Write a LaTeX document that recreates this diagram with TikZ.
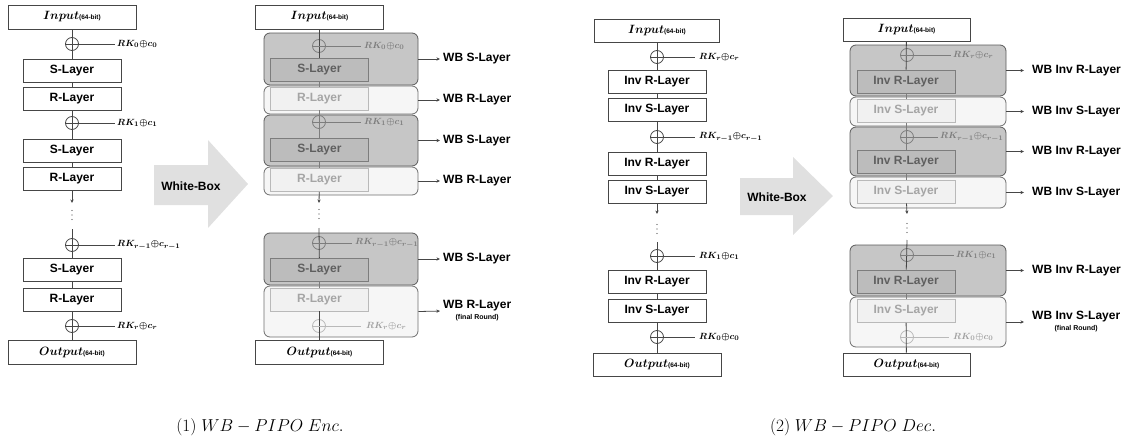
\documentclass[tikz,border=0pt]{standalone}
\usepackage{fontspec}
\usepackage{bm}
\newfontfamily\lblfont{Liberation Sans}
\usetikzlibrary{arrows.meta}
\definecolor{dk}{RGB}{70,70,70}
\definecolor{dfill}{RGB}{198,198,198}
\definecolor{dbord}{RGB}{90,90,90}
\definecolor{dinf}{RGB}{188,188,188}
\definecolor{dinb}{RGB}{125,125,125}
\definecolor{dint}{RGB}{95,95,95}
\definecolor{lfill}{RGB}{246,246,246}
\definecolor{lbord}{RGB}{110,110,110}
\definecolor{linf}{RGB}{241,241,241}
\definecolor{linb}{RGB}{185,185,185}
\definecolor{lint}{RGB}{165,165,165}
\definecolor{rkd}{RGB}{125,125,125}
\definecolor{rkl}{RGB}{160,160,160}
\definecolor{wbfill}{RGB}{224,224,224}
\newcommand{\iolab}[1]{{\fontsize{12.5}{14}\selectfont$\bm{#1}$}{\lblfont\bfseries\fontsize{6.5}{8}\selectfont(64-bit)}}
\newcommand{\finfont}{\lblfont\bfseries\fontsize{7}{8}\selectfont}
\newcommand{\xr}{{\oplus}}
\newcommand{\vdts}[2]{\foreach \dd in {-4.5,0,4.5}{\fill[dk] (#1,#2+\dd) circle (0.65);}}
\begin{document}
\begin{tikzpicture}[x=1pt,y=-1pt,
  pb/.style={draw=dk, fill=white, line width=0.8pt, minimum width=98pt, minimum height=23pt, inner sep=0pt, font=\lblfont\bfseries\fontsize{12}{14}\selectfont, text=black},
  iob/.style={pb, minimum width=128pt, minimum height=24pt},
  xorc/.style={circle, draw=dk, line width=0.8pt, minimum size=13pt, inner sep=0pt},
  xorg/.style={xorc, draw=dinb},
  xorl/.style={xorc, draw=linb},
  rk/.style={anchor=west, inner sep=0pt, font=\fontsize{9.5}{11}\selectfont, text=black},
  rkg/.style={rk, text=rkd},
  rkw/.style={rk, text=rkl},
  dbox/.style={draw=dbord, fill=dfill, rounded corners=6pt, line width=0.8pt, inner sep=0pt},
  lbox/.style={draw=lbord, fill=lfill, rounded corners=6pt, line width=0.8pt, inner sep=0pt},
  dinner/.style={pb, draw=dinb, fill=dinf, text=dint},
  linner/.style={pb, draw=linb, fill=linf, text=lint},
  wbl/.style={anchor=west, inner sep=0pt, align=center, font=\lblfont\bfseries\fontsize{12}{14}\selectfont},
  ln/.style={draw=dk, line width=0.8pt},
  lng/.style={draw=dinb, line width=0.8pt},
  lnl/.style={draw=linb, line width=0.8pt},
  arr/.style={-{Stealth[length=3.5pt,width=3.2pt]}},
  capn/.style={inner sep=0pt, font=\fontsize{19}{22}\selectfont}
]
\useasboundingbox (0,0) rectangle (1128,442);

%% ================= Panel 1: PIPO Enc =================
\node[iob] (in1) at (72,17) {\iolab{Input}};
\node[xorc] (xa1) at (72,44) {};
\node[rk] (ka1) at (117,44) {$\bm{RK_0\xr c_0}$};
\node[pb] (sa1) at (72,71) {S-Layer};
\node[pb] (ra1) at (72,99) {R-Layer};
\node[xorc] (xa2) at (72,123) {};
\node[rk] (ka2) at (117,123) {$\bm{RK_1\xr c_1}$};
\node[pb] (sa2) at (72,150.5) {S-Layer};
\node[pb] (ra2) at (72,178.5) {R-Layer};
\coordinate (aa) at (72,203);
\vdts{72}{215}
\coordinate (ba) at (72,229);
\node[xorc] (xa3) at (72,245) {};
\node[rk] (ka3) at (117,245) {$\bm{RK_{r-1}\xr c_{r-1}}$};
\node[pb] (sa3) at (72,270) {S-Layer};
\node[pb] (ra3) at (72,299.5) {R-Layer};
\node[xorc] (xa4) at (72,326) {};
\node[rk] (ka4) at (117,326) {$\bm{RK_r\xr c_r}$};
\node[iob] (out1) at (72,352.5) {\iolab{Output}};
\draw[ln] (in1) -- (sa1);
\draw[ln] (sa1) -- (ra1);
\draw[ln] (ra1) -- (sa2);
\draw[ln] (sa2) -- (ra2);
\draw[ln,arr] (ra2) -- (aa);
\draw[ln] (ba) -- (sa3);
\draw[ln] (sa3) -- (ra3);
\draw[ln] (ra3) -- (out1);
\foreach \i in {1,2,3,4}{\draw[ln,shorten >=2pt] (xa\i.west) -- (ka\i.west);}

%% White-Box arrow 1
\fill[wbfill] (154,165) -- (208,165) -- (208,140) -- (248,184) -- (208,228) -- (208,205) -- (154,205) -- cycle;
\node[wbl, anchor=center] (wb1) at (191,186) {White-Box};

%% ================= Panel 2: WB-PIPO Enc =================
\node[dbox, minimum width=154pt, minimum height=52pt] (D1) at (341,59) {};
\node[lbox, minimum width=154pt, minimum height=28pt] (L2) at (341,100) {};
\node[dbox, minimum width=154pt, minimum height=51pt] (D3) at (341,140.5) {};
\node[lbox, minimum width=154pt, minimum height=28pt] (L4) at (341,181) {};
\node[dbox, minimum width=154pt, minimum height=52pt] (D5) at (341,259) {};
\node[lbox, minimum width=154pt, minimum height=51pt] (L6) at (341,311.5) {};

\node[iob] (in2) at (319.5,17) {\iolab{Input}};
\node[xorg] (xb1) at (319,46) {};
\node[rkg] (kb1) at (364,46) {$\bm{RK_0\xr c_0}$};
\node[dinner] (sb1) at (319.5,69.5) {S-Layer};
\node[linner] (rb1) at (319.5,98.5) {R-Layer};
\node[xorg] (xb2) at (319,122) {};
\node[rkg] (kb2) at (364,122) {$\bm{RK_1\xr c_1}$};
\node[dinner] (sb2) at (319.5,150) {S-Layer};
\node[linner] (rb2) at (319.5,180) {R-Layer};
\coordinate (ab) at (319,203);
\vdts{319}{214}
\coordinate (bb) at (319,228);
\node[xorg] (xb3) at (319,243) {};
\node[rkg] (kb3) at (355,243) {$\bm{RK_{r-1}\xr c_{r-1}}$};
\node[dinner] (sb3) at (319.5,270) {S-Layer};
\node[linner] (rb3) at (319.5,299.5) {R-Layer};
\node[xorl] (xb4) at (319,326) {};
\node[rkw] (kb4) at (366,326) {$\bm{RK_r\xr c_r}$};
\node[iob] (out2) at (319.5,352.5) {\iolab{Output}};
\draw[ln] (in2) -- (sb1);
\draw[lng] (sb1) -- (rb1);
\draw[lng] (rb1) -- (sb2);
\draw[lng] (sb2) -- (rb2);
\draw[ln,arr] (rb2) -- (ab);
\draw[ln] (bb) -- (sb3);
\draw[lng] (sb3) -- (rb3);
\draw[ln] (rb3) -- (out2);
\foreach \i in {1,2,3}{\draw[lng,shorten >=3pt] (xb\i.west) -- (kb\i.west);}
\draw[lnl,shorten >=5pt] (xb4.west) -- (kb4.west);

\node[wbl] (wl1) at (443,59) {WB S-Layer};
\node[wbl] (wl2) at (443,100) {WB R-Layer};
\node[wbl] (wl3) at (443,140.5) {WB S-Layer};
\node[wbl] (wl4) at (443,181) {WB R-Layer};
\node[wbl] (wl5) at (443,259) {WB S-Layer};
\node[wbl] (wl6) at (443,311) {WB R-Layer\\[-3pt]{\finfont (final Round)}};
\draw[ln,arr,shorten >=3pt] (D1.east) -- (wl1.west);
\draw[ln,arr,shorten >=3pt] (L2.east) -- (wl2.west);
\draw[ln,arr,shorten >=3pt] (D3.east) -- (wl3.west);
\draw[ln,arr,shorten >=3pt] (L4.east) -- (wl4.west);
\draw[ln,arr,shorten >=3pt] (D5.east) -- (wl5.west);
\draw[ln,arr,shorten >=3pt] (L6.east) -- (wl6.west);

%% ================= Panel 3: PIPO Dec =================
\node[iob, minimum width=125pt, minimum height=23pt] (in3) at (657,30.5) {\iolab{Input}};
\node[xorc] (xc1) at (657,57) {};
\node[rk] (kc1) at (699,57) {$\bm{RK_r\xr c_r}$};
\node[pb] (rc1) at (657,81.5) {Inv R-Layer};
\node[pb] (sc1) at (657,110) {Inv S-Layer};
\node[xorc] (xc2) at (657,137) {};
\node[rk] (kc2) at (699,137) {$\bm{RK_{r-1}\xr c_{r-1}}$};
\node[pb] (rc2) at (657,163.5) {Inv R-Layer};
\node[pb] (sc2) at (657,191.5) {Inv S-Layer};
\coordinate (ac) at (657,214);
\vdts{657}{229}
\coordinate (bc) at (657,242);
\node[xorc] (xc3) at (657,256) {};
\node[rk] (kc3) at (699,256) {$\bm{RK_1\xr c_1}$};
\node[pb] (rc3) at (657,282) {Inv R-Layer};
\node[pb] (sc3) at (657,311) {Inv S-Layer};
\node[xorc] (xc4) at (657,337) {};
\node[rk] (kc4) at (699,337) {$\bm{RK_0\xr c_0}$};
\node[iob, minimum height=23pt] (out3) at (657,364.5) {\iolab{Output}};
\draw[ln] (in3) -- (rc1);
\draw[ln] (rc1) -- (sc1);
\draw[ln] (sc1) -- (rc2);
\draw[ln] (rc2) -- (sc2);
\draw[ln,arr] (sc2) -- (ac);
\draw[ln] (bc) -- (rc3);
\draw[ln] (rc3) -- (sc3);
\draw[ln] (sc3) -- (out3);
\foreach \i in {1,2,3,4}{\draw[ln,shorten >=4pt] (xc\i.west) -- (kc\i.west);}

%% White-Box arrow 2
\fill[wbfill] (740,178) -- (793,178) -- (793,157) -- (833,196) -- (793,235) -- (793,215) -- (740,215) -- cycle;
\node[wbl, anchor=center] (wb2) at (777,197) {White-Box};

%% ================= Panel 4: WB-PIPO Dec =================
\node[dbox, minimum width=156pt, minimum height=51pt] (E1) at (928,70.5) {};
\node[lbox, minimum width=156pt, minimum height=29pt] (F2) at (928,111.5) {};
\node[dbox, minimum width=156pt, minimum height=49pt] (E3) at (928,151.5) {};
\node[lbox, minimum width=156pt, minimum height=31pt] (F4) at (928,192.5) {};
\node[dbox, minimum width=156pt, minimum height=51pt] (E5) at (928,270.5) {};
\node[lbox, minimum width=156pt, minimum height=50pt] (F6) at (928,322) {};

\node[iob, minimum width=127pt, minimum height=23pt] (in4) at (906.5,29.5) {\iolab{Input}};
\node[xorg] (xd1) at (907,55) {};
\node[rkg] (kd1) at (953,55) {$\bm{RK_r\xr c_r}$};
\node[dinner] (rd1) at (906,81.5) {Inv R-Layer};
\node[linner] (sd1) at (906,111) {Inv S-Layer};
\node[xorg] (xd2) at (907,137) {};
\node[rkg] (kd2) at (940,137) {$\bm{RK_{r-1}\xr c_{r-1}}$};
\node[dinner] (rd2) at (906,162) {Inv R-Layer};
\node[linner] (sd2) at (906,191.5) {Inv S-Layer};
\coordinate (ad) at (907,214);
\vdts{907}{228}
\coordinate (bd) at (907,240);
\node[xorg] (xd3) at (907,255) {};
\node[rkg] (kd3) at (956,255) {$\bm{RK_1\xr c_1}$};
\node[dinner] (rd3) at (906,281.5) {Inv R-Layer};
\node[linner] (sd3) at (906,311) {Inv S-Layer};
\node[xorl] (xd4) at (907,337) {};
\node[rkw] (kd4) at (953,337) {$\bm{RK_0\xr c_0}$};
\node[iob, minimum width=127pt, minimum height=23pt] (out4) at (906.5,364.5) {\iolab{Output}};
\draw[ln] (in4) -- (rd1);
\draw[lng] (rd1) -- (sd1);
\draw[lng] (sd1) -- (rd2);
\draw[lng] (rd2) -- (sd2);
\draw[ln,arr] (sd2) -- (ad);
\draw[ln] (bd) -- (rd3);
\draw[lng] (rd3) -- (sd3);
\draw[ln] (sd3) -- (out4);
\foreach \i in {1,2,3}{\draw[lng,shorten >=2pt] (xd\i.west) -- (kd\i.west);}
\draw[lnl,shorten >=4pt] (xd4.west) -- (kd4.west);

\node[wbl] (wm1) at (1032,70.5) {WB Inv R-Layer};
\node[wbl] (wm2) at (1032,111.5) {WB Inv S-Layer};
\node[wbl] (wm3) at (1032,151.5) {WB Inv R-Layer};
\node[wbl] (wm4) at (1032,192.5) {WB Inv S-Layer};
\node[wbl] (wm5) at (1032,270.5) {WB Inv R-Layer};
\node[wbl] (wm6) at (1032,322) {WB Inv S-Layer\\[-3pt]{\finfont (final Round)}};
\draw[ln,arr,shorten >=8pt] (E1.east) -- (wm1.west);
\draw[ln,arr,shorten >=8pt] (F2.east) -- (wm2.west);
\draw[ln,arr,shorten >=8pt] (E3.east) -- (wm3.west);
\draw[ln,arr,shorten >=8pt] (F4.east) -- (wm4.west);
\draw[ln,arr,shorten >=8pt] (E5.east) -- (wm5.west);
\draw[ln,arr,shorten >=8pt] (F6.east) -- (wm6.west);

%% Captions
\node[capn] (cap1) at (260,427) {$(1)\;WB-PIPO\;Enc.$};
\node[capn] (cap2) at (853,427) {$(2)\;WB-PIPO\;Dec.$};
\end{tikzpicture}
\end{document}
